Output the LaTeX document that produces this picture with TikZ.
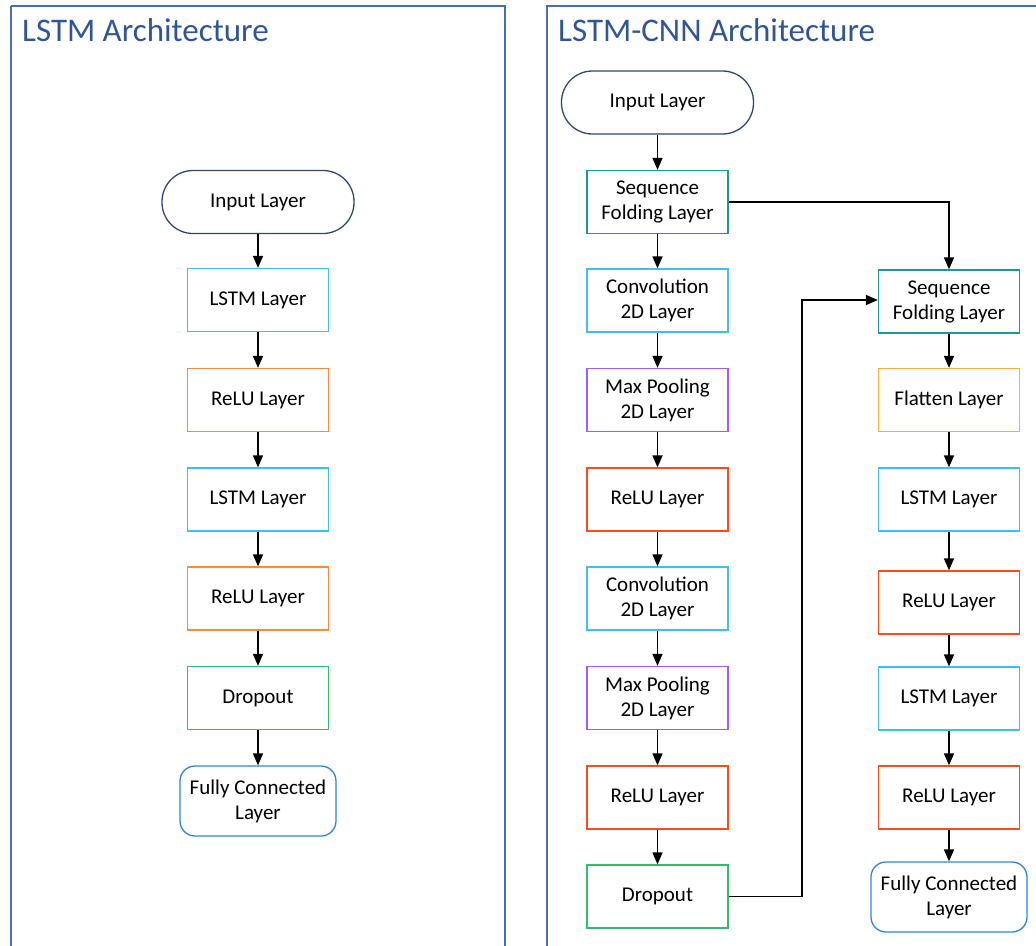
\documentclass[tikz,border=0pt]{standalone}
\usepackage{fontspec}
\setmainfont{Carlito}
\usetikzlibrary{arrows.meta,positioning}
\definecolor{panelc}{HTML}{4A6CB0}
\definecolor{titlec}{HTML}{2F5597}
\definecolor{inputc}{HTML}{2F4770}
\definecolor{lstmc}{HTML}{3FBFEF}
\definecolor{reluA}{HTML}{FF8A3D}
\definecolor{reluB}{HTML}{FF4A1C}
\definecolor{dropc}{HTML}{2EBE6E}
\definecolor{poolc}{HTML}{A259FF}
\definecolor{foldc}{HTML}{1A9A94}
\definecolor{flatc}{HTML}{FFB03B}
\definecolor{fcc}{HTML}{2F86D1}
\tikzset{
  base/.style={draw, line width=1.3pt, fill=white, align=center, inner sep=0pt,
    font=\fontsize{21}{25}\selectfont},
  box/.style={base, minimum width=141pt, minimum height=63pt},
  stadium/.style={base, draw=inputc, rounded corners=31pt, minimum width=192pt, minimum height=63pt},
  fcbox/.style={base, draw=fcc, rounded corners=15pt, minimum width=156pt, minimum height=70pt},
  lstmbox/.style={box, draw=lstmc},
  reluAbox/.style={box, draw=reluA},
  reluBbox/.style={box, draw=reluB},
  dropbox/.style={box, draw=dropc},
  poolbox/.style={box, draw=poolc},
  foldbox/.style={box, draw=foldc},
  flatbox/.style={box, draw=flatc},
  conn/.style={line width=1.6pt, -{Triangle[length=12pt,width=10pt]}},
  panel/.style={draw=panelc, line width=1.2pt},
  titletext/.style={anchor=base west, inner sep=0pt, text=titlec, font=\fontsize{33}{38}\selectfont}
}
\begin{document}
\begin{tikzpicture}[x=1pt,y=-1pt]
\useasboundingbox (0,0) rectangle (1036,945);
\begin{scope}
\clip (0,0) rectangle (1036,945);
\draw[panel] (11,6) -- (11,960) (11,6) -- (505,6) -- (505,960);
\draw[panel] (547,960) -- (547,6) -- (1050,6);
\end{scope}
\node[titletext] (t1) at (22,41) {LSTM Architecture};
\node[titletext] (t2) at (558,41) {LSTM-CNN Architecture};

% left panel
\node[stadium] (a0) at (258,202) {Input Layer};
\node[lstmbox] (a1) at (258,300) {LSTM Layer};
\node[reluAbox] (a2) at (258,400) {ReLU Layer};
\node[lstmbox] (a3) at (258,499.5) {LSTM Layer};
\node[reluAbox] (a4) at (258,598.5) {ReLU Layer};
\node[dropbox] (a5) at (258,698) {Dropout};
\node[fcbox] (a6) at (258,801) {Fully Connected\\Layer};
\foreach \i/\j in {a0/a1,a1/a2,a2/a3,a3/a4,a4/a5,a5/a6} \draw[conn] (\i) -- (\j);

% right panel, left column
\node[stadium] (b0) at (657.5,102.5) {Input Layer};
\node[foldbox] (b1) at (657.5,202) {Sequence\\Folding Layer};
\node[lstmbox] (b2) at (657.5,300.5) {Convolution\\2D Layer};
\node[poolbox] (b3) at (657.5,400) {Max Pooling\\2D Layer};
\node[reluBbox] (b4) at (657.5,499.5) {ReLU Layer};
\node[lstmbox] (b5) at (657.5,598.5) {Convolution\\2D Layer};
\node[poolbox] (b6) at (657.5,698) {Max Pooling\\2D Layer};
\node[reluBbox] (b7) at (657.5,797.5) {ReLU Layer};
\node[dropbox] (b8) at (657.5,896.5) {Dropout};
\foreach \i/\j in {b0/b1,b1/b2,b2/b3,b3/b4,b4/b5,b5/b6,b6/b7,b7/b8} \draw[conn] (\i) -- (\j);

% right column
\node[foldbox] (c1) at (949,301.5) {Sequence\\Folding Layer};
\node[flatbox] (c2) at (949,400) {Flatten Layer};
\node[lstmbox] (c3) at (949,499.5) {LSTM Layer};
\node[reluBbox] (c4) at (949,602.5) {ReLU Layer};
\node[lstmbox] (c5) at (949,698.5) {LSTM Layer};
\node[reluBbox] (c6) at (949,797.5) {ReLU Layer};
\node[fcbox] (c7) at (949,897) {Fully Connected\\Layer};
\foreach \i/\j in {c1/c2,c2/c3,c3/c4,c4/c5,c5/c6,c6/c7} \draw[conn] (\i) -- (\j);

\draw[conn] (b1.east) -| (c1.north);
\coordinate (k1) at (802,896.5);
\coordinate (k2) at (802,300);
\draw[conn] (b8.east) -- (k1) -- (k2) -- (c1.west |- k2);
\end{tikzpicture}
\end{document}
